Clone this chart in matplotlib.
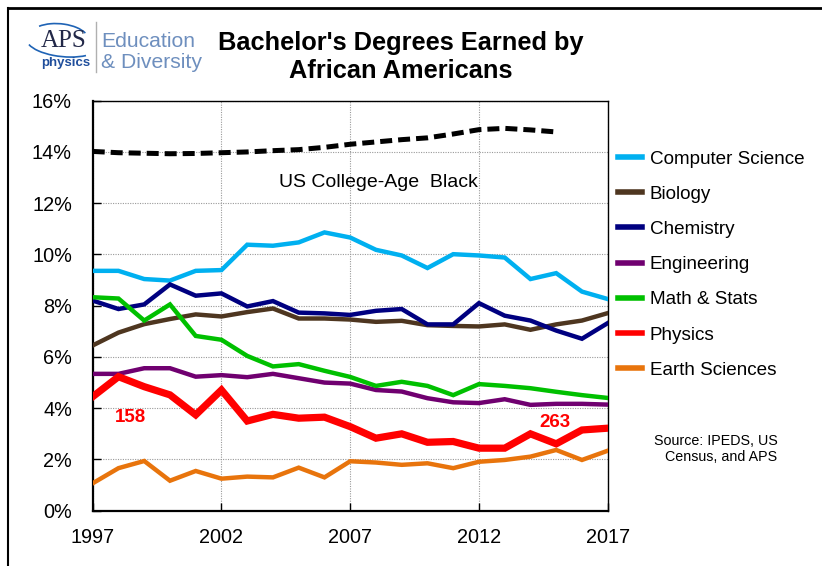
import matplotlib
matplotlib.use("Agg")
import matplotlib.pyplot as plt
from matplotlib.lines import Line2D
from matplotlib.patches import Arc
import numpy as np

plt.rcParams['font.family'] = ['Liberation Sans', 'DejaVu Sans']

years = list(range(1997, 2018))
census_years = list(range(1997, 2016))
census_black = [14.02, 13.97, 13.95, 13.93, 13.94, 13.97, 14.0, 14.05, 14.09, 14.18,
                14.3, 14.39, 14.48, 14.55, 14.7, 14.87, 14.92, 14.86, 14.78]

computer_science = [9.36, 9.36, 9.04, 8.98, 9.36, 9.39, 10.38, 10.34, 10.47, 10.86, 10.66,
                    10.18, 9.96, 9.47, 10.01, 9.96, 9.88, 9.04, 9.27, 8.55, 8.26]
biology = [6.45, 6.95, 7.28, 7.48, 7.66, 7.58, 7.75, 7.89, 7.50, 7.50, 7.46,
           7.37, 7.41, 7.24, 7.21, 7.19, 7.27, 7.06, 7.27, 7.42, 7.71]
chemistry = [8.2, 7.87, 8.05, 8.83, 8.39, 8.48, 7.97, 8.18, 7.73, 7.70, 7.64,
             7.80, 7.87, 7.27, 7.27, 8.10, 7.61, 7.42, 7.03, 6.71, 7.32]
engineering = [5.34, 5.34, 5.56, 5.56, 5.23, 5.29, 5.21, 5.34, 5.17, 5.0, 4.96,
               4.71, 4.65, 4.39, 4.23, 4.20, 4.35, 4.13, 4.17, 4.17, 4.14]
math_stats = [8.33, 8.28, 7.42, 8.05, 6.82, 6.67, 6.04, 5.63, 5.72, 5.46, 5.22,
              4.87, 5.03, 4.87, 4.51, 4.94, 4.87, 4.78, 4.64, 4.51, 4.40]
physics = [4.45, 5.23, 4.84, 4.52, 3.74, 4.71, 3.50, 3.76, 3.61, 3.65, 3.28,
           2.83, 3.0, 2.67, 2.70, 2.44, 2.44, 3.0, 2.61, 3.15, 3.22]
earth_sciences = [1.07, 1.66, 1.94, 1.17, 1.55, 1.25, 1.33, 1.30, 1.68, 1.30, 1.93,
                  1.88, 1.79, 1.85, 1.66, 1.91, 1.98, 2.11, 2.37, 1.98, 2.34]

series_names = ["Computer Science", "Biology", "Chemistry", "Engineering",
                "Math & Stats", "Physics", "Earth Sciences"]
series_values = [computer_science, biology, chemistry, engineering,
                 math_stats, physics, earth_sciences]
colors = ["#00B0F0", "#4E3620", "#000080", "#700070", "#00C000", "#FF0000", "#E8740C"]
widths = [3.2, 3.2, 3.2, 3.2, 3.2, 5.2, 3.2]

xticks = [1997, 2002, 2007, 2012, 2017]
yticks = [0, 2, 4, 6, 8, 10, 12, 14, 16]

fig = plt.figure(figsize=(8.22, 5.66), dpi=100)
ax = fig.add_axes([0.1128, 0.0977, 0.6265, 0.7244])

ax.plot(census_years, census_black, color="black", lw=3.6, ls=(0, (2.4, 1.2)),
        zorder=3, solid_capstyle='butt')
handles = []
for name, vals, c, w in zip(series_names, series_values, colors, widths):
    h, = ax.plot(years, vals, color=c, lw=w, label=name, zorder=4,
                 solid_joinstyle='miter')
    handles.append(h)

ax.set_xlim(1997, 2017)
ax.set_ylim(0, 16)
ax.set_xticks(xticks)
ax.set_xticklabels([str(x) for x in xticks])
ax.set_yticks(yticks)
ax.set_yticklabels([f"{y}%" for y in yticks])
ax.tick_params(axis='both', direction='in', length=6, width=1, labelsize=14.3)
ax.tick_params(axis='y', pad=15)
ax.tick_params(axis='x', pad=12.5)
ax.grid(True, color="#9a9a9a", ls=(0, (1, 1.2)), lw=0.8)
for s in ax.spines.values():
    s.set_linewidth(1.0)
ax.spines['left'].set_linewidth(1.6)
ax.spines['bottom'].set_linewidth(1.6)

leg = ax.legend(handles=handles, loc='upper left', bbox_to_anchor=(1.006, 0.897),
                frameon=False, fontsize=13.6, handlelength=1.25, handletextpad=0.4,
                labelspacing=0.95, borderaxespad=0)
for line in leg.get_lines():
    line.set_linewidth(4)

ax.text(2008.1, 12.8, "US College-Age  Black", fontsize=14, ha='center', va='center')
ax.text(1998.45, 3.62, "158", color="#FF0000", fontsize=13.5, fontweight='bold',
        ha='center', va='center')
ax.text(2014.94, 3.44, "263", color="#FF0000", fontsize=13.5, fontweight='bold',
        ha='center', va='center')

fig.text(0.946, 0.207, "Source: IPEDS, US\nCensus, and APS", fontsize=10.3,
         ha='right', va='center', linespacing=1.15)

fig.text(0.488, 0.899, "Bachelor's Degrees Earned by\nAfrican Americans", fontsize=18.3,
         fontweight='bold', ha='center', va='center', linespacing=1.2)

# Logo
fig.text(0.077, 0.928, "APS", family=['Liberation Serif', 'DejaVu Serif'], fontsize=18,
         color="#222848", ha='center', va='center')
fig.text(0.0795, 0.889, "physics", fontsize=9.5, fontweight='bold', color="#1F4E9C",
         ha='center', va='center')
fig.add_artist(Arc((0.077, 0.925), 0.09, 0.05, angle=-10, theta1=195, theta2=330,
                   transform=fig.transFigure, color="#1F63B5", lw=1.2))
fig.add_artist(Arc((0.072, 0.933), 0.072, 0.05, angle=-10, theta1=25, theta2=150,
                   transform=fig.transFigure, color="#1F63B5", lw=1.2))
fig.add_artist(Line2D([0.1168, 0.1168], [0.873, 0.962], color="#b0b0b0", lw=1,
                      transform=fig.transFigure))
fig.text(0.123, 0.927, "Education", fontsize=15.2, color="#6E8FBE", ha='left', va='center')
fig.text(0.123, 0.889, "& Diversity", fontsize=15.2, color="#6E8FBE", ha='left', va='center')

# Border
fig.add_artist(Line2D([0.0097, 1.0], [0.985, 0.985], color="black", lw=2,
                      transform=fig.transFigure))
fig.add_artist(Line2D([0.0097, 0.0097], [0.0, 0.985], color="black", lw=1.5,
                      transform=fig.transFigure))

fig.savefig("out.png", dpi=100)
